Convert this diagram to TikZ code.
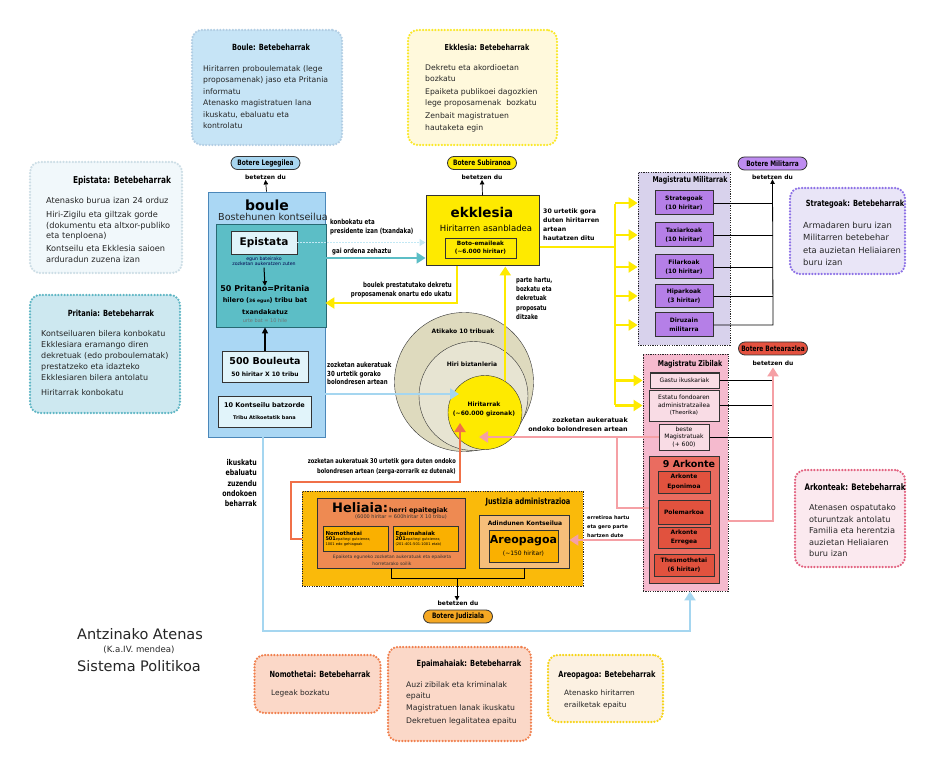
\documentclass[tikz,border=0pt]{standalone}
\usepackage{fontspec}
\setmainfont{DejaVu Sans}
\newfontfamily\condfont[FakeStretch=0.78]{DejaVu Sans}
\usepackage{xcolor}
\usetikzlibrary{arrows.meta,positioning,calc}

\definecolor{bouleblue}{RGB}{170,215,244}
\definecolor{bouleedge}{RGB}{75,135,185}
\definecolor{pritteal}{RGB}{92,190,198}
\definecolor{pritedge}{RGB}{40,105,115}
\definecolor{epipale}{RGB}{225,244,250}
\definecolor{ekyellow}{RGB}{254,234,0}
\definecolor{milpurple}{RGB}{181,127,231}
\definecolor{milback}{RGB}{216,210,236}
\definecolor{zibback}{RGB}{245,186,206}
\definecolor{zibbox}{RGB}{249,220,229}
\definecolor{arkred}{RGB}{234,108,96}
\definecolor{arkdark}{RGB}{225,82,62}
\definecolor{justgold}{RGB}{250,186,10}
\definecolor{heliaorange}{RGB}{238,138,82}
\definecolor{epaiamber}{RGB}{250,176,0}
\definecolor{adinpeach}{RGB}{246,190,122}
\definecolor{tanouter}{RGB}{222,218,190}
\definecolor{tanmid}{RGB}{231,228,210}
\definecolor{pinkline}{RGB}{245,160,165}
\definecolor{redline}{RGB}{240,112,72}
\definecolor{skyline}{RGB}{165,214,240}
\definecolor{dotsky}{RGB}{195,232,244}
\definecolor{botred}{RGB}{228,82,64}
\definecolor{botorange}{RGB}{245,168,35}
\definecolor{botsky}{RGB}{168,214,240}
\definecolor{botpurple}{RGB}{190,140,240}
% Betebeharrak colours
\definecolor{bouledutyfill}{RGB}{198,228,246}
\definecolor{bouledutyedge}{RGB}{178,206,228}
\definecolor{ekdutyfill}{RGB}{255,249,220}
\definecolor{ekdutyedge}{RGB}{250,232,40}
\definecolor{epidutyfill}{RGB}{241,248,251}
\definecolor{epidutyedge}{RGB}{205,222,230}
\definecolor{pritdutyfill}{RGB}{205,232,240}
\definecolor{pritdutyedge}{RGB}{95,182,196}
\definecolor{stratdutyfill}{RGB}{233,229,247}
\definecolor{stratdutyedge}{RGB}{140,112,230}
\definecolor{arkdutyfill}{RGB}{251,233,239}
\definecolor{arkdutyedge}{RGB}{226,96,126}
\definecolor{nomodutyfill}{RGB}{251,216,200}
\definecolor{nomodutyedge}{RGB}{240,128,78}
\definecolor{areodutyfill}{RGB}{252,241,226}
\definecolor{areodutyedge}{RGB}{246,212,22}

\tikzset{
  dutybox/.style={rounded corners=10pt, line width=2.5pt, line cap=round, dash pattern=on 0pt off 3.1pt, inner sep=0pt},
  dutyhead/.style={inner sep=0pt, font=\condfont\bfseries\fontsize{8.5}{10}\selectfont},
  dutytext/.style={inner sep=0pt, anchor=north west, align=left, text=black!85, font=\fontsize{7.7}{11.5}\selectfont},
  pill/.style={draw=black!80, line width=0.8pt, rounded corners=6.5pt, minimum width=69pt, minimum height=13pt, inner sep=0pt, font=\condfont\bfseries\fontsize{7.5}{8}\selectfont},
  betet/.style={inner sep=0pt, font=\bfseries\fontsize{6}{7}\selectfont},
  panel/.style={draw=black!80, line width=0.8pt, inner sep=0pt},
  magbox/.style={panel, line width=1pt, align=center, font=\bfseries\fontsize{6}{9.5}\selectfont},
  groupbox/.style={draw=black!85, line width=0.9pt, dash pattern=on 1.2pt off 1.2pt, inner sep=0pt},
  grouphead/.style={inner sep=0pt, font=\condfont\bfseries\fontsize{8}{9}\selectfont},
  txt/.style={inner sep=0pt, align=center},
  lbl/.style={inner sep=0pt, align=left, font=\bfseries\fontsize{6.2}{9}\selectfont},
  lblc/.style={inner sep=0pt, align=left, font=\condfont\bfseries\fontsize{7}{9}\selectfont},
  blackarr/.style={-{Triangle[length=4.5pt,width=4.5pt]}, line width=0.7pt},
  bigarr/.style={-{Triangle[length=9pt,width=11pt]}, line width=2.2pt}
}

\begin{document}
\begin{tikzpicture}[x=1pt,y=-1pt]
  \useasboundingbox (0,0) rectangle (930,770);
  \fill[white] (0,0) rectangle (930,770);

  % Betebeharrak
  \node[dutybox, fill=bouledutyfill, draw=bouledutyedge, minimum width=150pt, minimum height=115pt] (bouleduty) at (267,87.5) {};
  \node[dutyhead] (bouledutyhead) at (271,47) {Boule: Betebeharrak};
  \node[dutytext] (bouledutytext) at (203,65) {Hiritarren proboulematak (lege\\ proposamenak) jaso eta Pritania\\ informatu\\ Atenasko magistratuen lana\\ ikuskatu, ebaluatu eta\\ kontrolatu};

  \node[dutybox, fill=ekdutyfill, draw=ekdutyedge, minimum width=149pt, minimum height=115pt] (ekduty) at (482.5,87.5) {};
  \node[dutyhead, font=\condfont\bfseries\fontsize{8.2}{10}\selectfont] (ekdutyhead) at (487,47) {Ekklesia: Betebeharrak};
  \node[dutytext] (ekdutytext) at (425,64) {Dekretu eta akordioetan\\ bozkatu\\[1pt] Epaiketa publikoei dagozkien\\ lege proposamenak\ \ bozkatu\\[1.5pt] Zenbait magistratuen\\ hautaketa egin};

  \node[dutybox, fill=epidutyfill, draw=epidutyedge, minimum width=152pt, minimum height=111pt] (epiduty) at (106,217.5) {};
  \node[dutyhead, font=\condfont\bfseries\fontsize{9.5}{10}\selectfont] (epidutyhead) at (122,181) {Epistata: Betebeharrak};
  \node[dutytext, font=\fontsize{8.2}{10.8}\selectfont] (epidutytext) at (46,197) {Atenasko burua izan 24 orduz\\[3pt] Hiri-Zigilu eta giltzak gorde\\ (dokumentu eta altxor-publiko\\ eta tenploena)\\[2pt] Kontseilu eta Ekklesia saioen\\ arduradun zuzena izan};

  \node[dutybox, fill=pritdutyfill, draw=pritdutyedge, minimum width=150pt, minimum height=118pt] (pritduty) at (105,354) {};
  \node[dutyhead] (pritdutyhead) at (111,313) {Pritania: Betebeharrak};
  \node[dutytext, font=\fontsize{8}{11}\selectfont] (pritdutytext) at (41,330) {Kontseiluaren bilera konbokatu\\ Ekklesiara eramango diren\\ dekretuak (edo proboulematak)\\ prestatzeko eta idazteko\\ Ekklesiaren bilera antolatu\\[4pt] Hiritarrak konbokatu};

  \node[dutybox, fill=stratdutyfill, draw=stratdutyedge, minimum width=115pt, minimum height=86pt] (stratduty) at (847.5,231) {};
  \node[dutyhead] (stratdutyhead) at (855,204) {Strategoak: Betebeharrak};
  \node[dutytext, font=\fontsize{8.4}{12.3}\selectfont] (stratdutytext) at (803,222) {Armadaren buru izan\\ Militarren betebehar\\ eta auzietan Heliaiaren\\ buru izan};

  \node[dutybox, fill=arkdutyfill, draw=arkdutyedge, minimum width=110pt, minimum height=97pt] (arkduty) at (850,518.5) {};
  \node[dutyhead, font=\condfont\bfseries\fontsize{9}{10}\selectfont] (arkdutyhead) at (855,487) {Arkonteak: Betebeharrak};
  \node[dutytext, font=\fontsize{8.2}{11.6}\selectfont] (arkdutytext) at (809,504) {Atenasen ospatutako\\ oturuntzak antolatu\\ Familia eta herentzia\\ auzietan Heliaiaren\\ buru izan};

  \node[dutybox, fill=nomodutyfill, draw=nomodutyedge, minimum width=126pt, minimum height=58pt] (nomoduty) at (317.5,684) {};
  \node[dutyhead] (nomodutyhead) at (320,674) {Nomothetai: Betebeharrak};
  \node[dutytext, font=\fontsize{7.4}{11}\selectfont] (nomodutytext) at (271,690) {Legeak bozkatu};

  \node[dutybox, fill=nomodutyfill, draw=nomodutyedge, minimum width=143pt, minimum height=94pt] (epaiduty) at (459.5,694) {};
  \node[dutyhead] (epaidutyhead) at (469,664) {Epaimahaiak: Betebeharrak};
  \node[dutytext, font=\fontsize{7.7}{12.5}\selectfont] (epaidutytext) at (406,681) {Auzi zibilak eta kriminalak\\[-1.5pt] epaitu\\ Magistratuen lanak ikuskatu\\ Dekretuen legalitatea epaitu};

  \node[dutybox, fill=areodutyfill, draw=areodutyedge, minimum width=115pt, minimum height=67pt] (areoduty) at (605.5,688.5) {};
  \node[dutyhead] (areodutyhead) at (607,675) {Areopagoa: Betebeharrak};
  \node[dutytext, font=\fontsize{7.4}{12}\selectfont] (areodutytext) at (564,690) {Atenasko hiritarren\\ erailketak epaitu};

  % Botere
  \node[pill, fill=botsky] (botleg) at (265.5,163) {Botere Legegilea};
  \node[betet, below=5pt of botleg] (betleg) {betetzen du};
  \node[pill, fill=ekyellow] (botsub) at (482,163) {Botere Subiranoa};
  \node[betet, below=5pt of botsub] (betsub) {betetzen du};
  \node[pill, fill=botpurple] (botmil) at (772.5,163.5) {Botere Militarra};
  \node[betet, below=4pt of botmil] (betmil) {betetzen du};
  \node[pill, fill=botred] (botzib) at (773,348.5) {Botere Betearazlea};
  \node[betet, below=5pt of botzib] (betzib) {betetzen du};
  \node[pill, fill=botorange] (botjud) at (458,616.5) {Botere Judiziala};
  \node[betet, above=4pt of botjud] (betjud) {betetzen du};

  % boule
  \node[panel, draw=bouleedge, fill=bouleblue, minimum width=117pt, minimum height=245pt] (boule) at (266.5,314.5) {};
  \node[txt, font=\bfseries\fontsize{14}{15}\selectfont] (bouletitle) at (267,205) {boule};
  \node[txt, font=\fontsize{9.6}{10}\selectfont, text=black!85] (boulesub) at (273,217) {Bostehunen kontseilua};
  \node[panel, draw=pritedge, fill=pritteal, minimum width=110pt, minimum height=103pt] (pritania) at (271,275.5) {};
  \node[panel, fill=epipale, minimum width=66pt, minimum height=23pt, font=\bfseries\fontsize{10.5}{12}\selectfont] (epistata) at (264,242.5) {Epistata};
  \node[txt, font=\fontsize{4.7}{5.2}\selectfont, text=black!70!blue] (epinote) at (264,261) {egun bateirako\\ zozketan aukeratzen zuten};
  \node[txt, font=\bfseries\fontsize{8}{9}\selectfont] (pritano) at (265,289) {50 Pritano=Pritania};
  \node[txt, font=\bfseries\fontsize{6.5}{8}\selectfont] (hilero) at (265,301) {hilero ({\fontsize{4.5}{5}\selectfont 36 egun}) tribu bat};
  \node[txt, font=\bfseries\fontsize{6.5}{8}\selectfont] (txanda) at (265,312) {txandakatuz};
  \node[txt, font=\fontsize{5}{6}\selectfont, text=black!55] (urtea) at (265,321) {urte bat = 10 hile};
  \node[panel, fill=epipale, minimum width=86pt, minimum height=31pt, align=center] (bouleuta) at (265,366.5) {{\bfseries\fontsize{9.5}{11}\selectfont 500 Bouleuta}\\ {\bfseries\fontsize{6}{7}\selectfont 50 hiritar X 10 tribu}};
  \node[panel, fill=epipale, minimum width=93pt, minimum height=31pt, align=center] (batzorde) at (264.5,411.5) {{\bfseries\fontsize{6.5}{8}\selectfont 10 Kontseilu batzorde}\\ {\bfseries\fontsize{5}{6}\selectfont Tribu Atikoetatik bana}};

  % ekklesia
  \node[panel, fill=ekyellow, line width=1pt, minimum width=113pt, minimum height=70pt] (ekklesia) at (482.5,231) {};
  \node[txt, font=\bfseries\fontsize{13.5}{15}\selectfont] (ektitle) at (482,212) {ekklesia};
  \node[txt, font=\fontsize{8.5}{10}\selectfont] (eksub) at (486,228) {Hiritarren asanbladea};
  \node[panel, fill=ekyellow, minimum width=71pt, minimum height=20pt, align=center, font=\bfseries\fontsize{5.8}{8}\selectfont] (boto) at (480.5,248) {Boto-emaileak\\ (\textasciitilde6.000 hiritar)};

  % herritarrak
  \node[circle, draw=black!80, fill=tanouter, minimum size=139pt, inner sep=0pt] (atika) at (464,382) {};
  \node[circle, draw=black!80, fill=tanmid, minimum size=109pt, inner sep=0pt] (hiri) at (473.5,396) {};
  \node[circle, draw=black!80, fill=ekyellow, minimum size=74pt, inner sep=0pt] (hiritar) at (485,412.5) {};
  \node[txt, font=\bfseries\fontsize{6}{7}\selectfont] (atikalbl) at (463,331) {Atikako 10 tribuak};
  \node[txt, font=\bfseries\fontsize{6}{7}\selectfont] (hirilbl) at (472,364) {Hiri biztanleria};
  \node[txt, font=\bfseries\fontsize{6}{9}\selectfont] (hiritarlbl) at (484,409) {Hiritarrak\\ (\textasciitilde60.000 gizonak)};

  % Magistratu militarrak
  \node[groupbox, fill=milback, minimum width=92pt, minimum height=173pt] (milit) at (684,258.5) {};
  \node[grouphead] (milithead) at (690,180) {Magistratu Militarrak};
  \node[magbox, fill=milpurple, minimum width=58pt, minimum height=24pt] (strat) at (684,203) {Strategoak\\ (10 hiritar)};
  \node[magbox, fill=milpurple, minimum width=58pt, minimum height=24pt] (taxi) at (684,235) {Taxiarkoak\\ (10 hiritar)};
  \node[magbox, fill=milpurple, minimum width=58pt, minimum height=24pt] (filar) at (684,267) {Filarkoak\\ (10 hiritar)};
  \node[magbox, fill=milpurple, minimum width=58pt, minimum height=23pt] (hipar) at (684,296) {Hiparkoak\\ (3 hiritar)};
  \node[magbox, fill=milpurple, minimum width=58pt, minimum height=24pt] (diruzain) at (684,325) {Diruzain\\ militarra};

  % Magistratu zibilak
  \node[groupbox, fill=zibback, minimum width=85pt, minimum height=237pt] (zibil) at (685.5,472.5) {};
  \node[grouphead] (zibilhead) at (690,364) {Magistratu Zibilak};
  \node[magbox, fill=zibbox, font=\fontsize{6}{7.5}\selectfont, minimum width=69pt, minimum height=15pt] (gastu) at (684.5,380.5) {Gastu ikuskariak};
  \node[magbox, fill=zibbox, font=\fontsize{6}{7.5}\selectfont, minimum width=70pt, minimum height=31pt] (estatu) at (684,405.5) {Estatu fondoaren\\ administratzailea\\ {\fontsize{5.5}{7}\selectfont (Theorika)}};
  \node[magbox, fill=zibbox, font=\fontsize{6}{7.5}\selectfont, minimum width=50pt, minimum height=26pt] (beste) at (684,437) {beste\\ Magistratuak\\ (+ 600)};
  \node[magbox, fill=arkred, minimum width=70pt, minimum height=127pt] (arkonte) at (684,519.5) {};
  \node[txt, font=\bfseries\fontsize{9.5}{10}\selectfont] (arkontehead) at (689,464) {9 Arkonte};
  \node[magbox, fill=arkdark, minimum width=52pt, minimum height=22pt] (eponimo) at (684,482) {Arkonte\\ Eponimoa};
  \node[magbox, fill=arkdark, minimum width=52pt, minimum height=24pt] (polemarko) at (684,512) {Polemarkoa};
  \node[magbox, fill=arkdark, minimum width=52pt, minimum height=21pt] (errege) at (684,537.5) {Arkonte\\ Erregea};
  \node[magbox, fill=arkdark, minimum width=60pt, minimum height=22pt] (thesmo) at (684,565) {Thesmothetai\\ (6 hiritar)};

  % Justizia administrazioa
  \node[groupbox, fill=justgold, minimum width=281pt, minimum height=95pt] (justizia) at (442.5,538.5) {};
  \node[grouphead, font=\condfont\bfseries\fontsize{8.5}{10}\selectfont] (justhead) at (528,502) {Justizia administrazioa};
  \node[panel, fill=heliaorange, minimum width=148pt, minimum height=70pt] (helia) at (391,533) {};
  \node[txt] (heliahead) at (390,508) {{\bfseries\fontsize{13}{13}\selectfont Heliaia:}{\bfseries\fontsize{6.5}{7}\selectfont\,herri epaitegiak}};
  \node[txt, font=\fontsize{5}{6}\selectfont, text=black!80] (heliasub) at (401,517) {(6000 hiritar = 600hiritar X 10 tribu)};
  \node[panel, fill=epaiamber, minimum width=65pt, minimum height=25pt, text width=60pt, align=left, font=\fontsize{3.6}{5}\selectfont] (nomo) at (355.5,538.5) {{\bfseries\fontsize{5.5}{6}\selectfont Nomothetai}\\ {\bfseries\fontsize{5}{6}\selectfont 501}epaitegi gutxienez,\\ 1001 edo gehiagoak};
  \node[panel, fill=epaiamber, minimum width=65pt, minimum height=25pt, text width=60pt, align=left, font=\fontsize{3.6}{5}\selectfont] (epai) at (425.5,538.5) {{\bfseries\fontsize{5.5}{6}\selectfont Epaimahaiak}\\ {\bfseries\fontsize{5}{6}\selectfont 201}epaitegi gutxienez,\\ (201-401-501-1001 etab)};
  \node[txt, font=\fontsize{4.5}{7}\selectfont, text=black!80] (epaiketa) at (392,560) {Epaiketa eguneko zozketan aukeratuak eta epaiketa\\ horretarako soilik};
  \node[panel, fill=adinpeach, minimum width=90pt, minimum height=53pt] (adin) at (524,541.5) {};
  \node[txt, font=\bfseries\fontsize{6}{7}\selectfont] (adinhead) at (525,523) {Adindunen Kontseilua};
  \node[panel, fill=epaiamber, minimum width=69pt, minimum height=32pt, align=center] (areo) at (523.5,546) {{\bfseries\fontsize{11}{13}\selectfont Areopagoa}\\ {\fontsize{6}{7}\selectfont (\textasciitilde150 hiritar)}};

  % Title
  \node[txt, font=\fontsize{14.5}{16}\selectfont, text=black!85] (izenburua) at (140,634) {Antzinako Atenas};
  \node[txt, font=\fontsize{8.6}{9}\selectfont, text=black!85] (garaia) at (139,650) {(K.a.IV. mendea)};
  \node[txt, font=\fontsize{14.5}{16}\selectfont, text=black!85] (sistema) at (139,666) {Sistema Politikoa};

  % Labels
  \node[lblc, anchor=north west] (konbokatu) at (330,219) {konbokatu eta\\ presidente izan (txandaka)};
  \node[lblc, anchor=north west] (gaiordena) at (332,248) {gai ordena zehaztu};
  \node[lblc, anchor=north east, align=right] (onartu) at (452,282) {boulek prestatutako dekretu\\ proposamenak onartu edo ukatu};
  \node[lblc, anchor=north west, font=\condfont\bfseries\fontsize{6.8}{9.3}\selectfont] (partehartu) at (516,277) {parte hartu,\\ bozkatu eta\\ dekretuak\\ proposatu\\ ditzake};
  \node[lbl, anchor=north west] (hautatzen) at (543,209) {30 urtetik gora\\ duten hiritarren\\ artean\\ hautatzen ditu};
  \node[lblc, anchor=north west, font=\condfont\bfseries\fontsize{7}{8.7}\selectfont] (zozkaboule) at (327,362) {zozketan aukeratuak\\ 30 urtetik gorako\\ bolondresen artean};
  \node[lbl, anchor=north east, align=right, font=\bfseries\fontsize{6.4}{9}\selectfont] (zozkamag) at (628,417) {zozketan aukeratuak\\ ondoko bolondresen artean};
  \node[lbl, anchor=north west, font=\bfseries\fontsize{5}{9}\selectfont] (erretiroa) at (587,515) {erretiroa hartu\\ eta gero parte\\ hartzen dute};
  \node[lblc, anchor=north east, align=right, font=\condfont\bfseries\fontsize{6.6}{10}\selectfont] (zozkahelia) at (456,458) {zozketan aukeratuak 30 urtetik gora duten ondoko\\ bolondresen artean (zerga-zorrarik ez dutenak)};
  \node[lblc, anchor=north east, align=right, font=\condfont\bfseries\fontsize{8}{10.4}\selectfont] (ikuskatu) at (257,459) {ikuskatu\\ ebaluatu\\ zuzendu\\ ondokoen\\ beharrak};

  % Arrows
  \coordinate (milbus) at (773,325);
  \coordinate (zibbus) at (773,521);
  \coordinate (yeltop) at (615,204);
  \coordinate (yelbot) at (615,405);
  \coordinate (pinktip) at (479,437);
  \coordinate (redtip) at (460,423);
  \coordinate (skytip) at (459,394);

  \draw[blackarr] (boule.north) -- (betleg.south);
  \draw[blackarr] (ekklesia.north) -- (betsub.south);
  \draw[blackarr, line width=1pt] (epinote.south) ++(0,2) -- (pritano.north);
  \draw[-{Triangle[length=6pt,width=6pt]}, line width=1.4pt] (bouleuta.north) -- (bouleuta.north |- pritania.south);

  \draw[-{Triangle[length=6pt,width=7pt]}, dotsky, line width=1.6pt, dash pattern=on 1.5pt off 1.5pt] (epistata.east) -- (ekklesia.west |- epistata.east);
  \draw[-{Triangle[length=9pt,width=11pt]}, pritteal, line width=1.8pt] (pritania.east |- 0,258) -- (ekklesia.west |- 0,258);
  \draw[bigarr, ekyellow] (ekklesia.south -| 457,0) |- (boule.east |- 0,303);
  \draw[bigarr, ekyellow] (hiritar.57) -- (hiritar.57 |- ekklesia.south);

  % ekklesia -> magistratuak
  \draw[ekyellow, line width=2.2pt] (ekklesia.east |- 0,247) -- (yeltop |- 0,247);
  \draw[ekyellow, line width=2.2pt] (yeltop) -- (yelbot);
  \foreach \m in {strat,taxi,filar,hipar,diruzain}
    \draw[bigarr, ekyellow] (yeltop |- \m) -- (milit.west |- \m);
  \foreach \m in {gastu,estatu}
    \draw[bigarr, ekyellow] (yeltop |- \m) -- (zibil.west |- \m);

  % magistratuak -> botere
  \foreach \m in {strat,taxi,filar,hipar}
    \draw[line width=0.8pt] (\m.east) -- (\m.east -| milbus);
  \draw[blackarr, line width=0.8pt] (diruzain.east) -- (milbus) -- (betmil.south);
  \foreach \m in {gastu,estatu,beste}
    \draw[line width=0.8pt] (\m.east) -- (\m.east -| zibbus);
  \draw[bigarr, pinkline] (zibil.east |- zibbus) -- (zibbus) -- ($(betzib.south)+(0,2)$);

  % zozketak
  \draw[bigarr, skyline] (boule.east |- skytip) -- (skytip);
  \draw[bigarr, pinkline] (beste.west) -- (pinktip);
  \draw[pinkline, line width=2.2pt] (arkonte.west |- 0,508) -| (617,437);
  \draw[bigarr, pinkline] (zibil.west |- 0,540) -- (adin.east |- 0,540);
  \draw[bigarr, redline] (justizia.west |- 0,539) -| (291,482) -| (redtip);
  \draw[bigarr, skyline] (boule.south -| 263,0) |- (690,631) -- (zibil.south -| 690,0);

  % justizia -> botere
  \draw[line width=0.9pt] (helia.south) -- ++(0,10) -| (adin.south);
  \draw[blackarr, line width=0.9pt] (457,578) -- (betjud.north -| 457,0);
\end{tikzpicture}
\end{document}
